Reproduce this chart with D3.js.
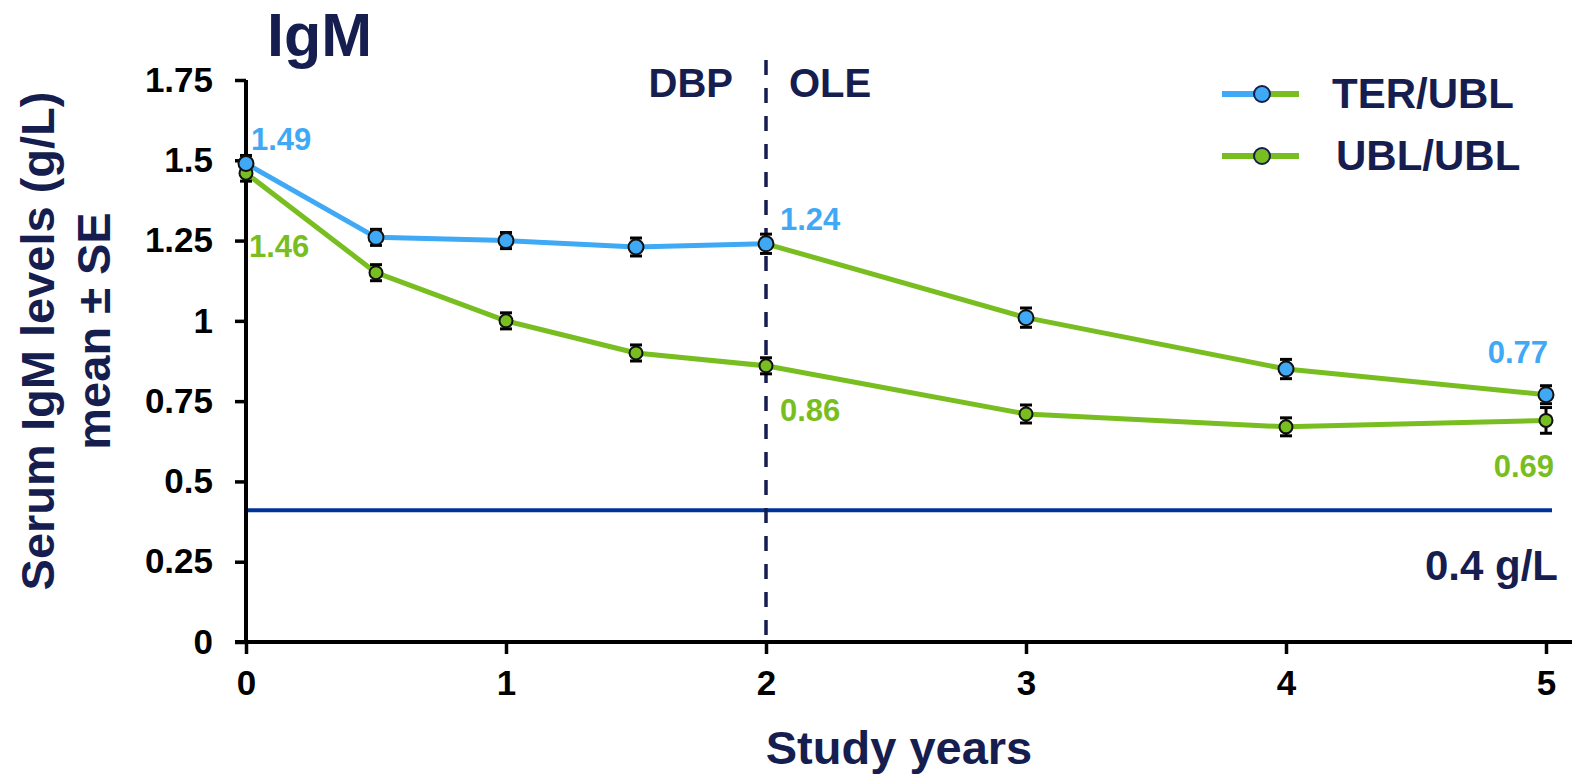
<!DOCTYPE html>
<html><head><meta charset="utf-8">
<script src="https://cdn.jsdelivr.net/npm/d3@7"></script>
<style>
html,body{margin:0;padding:0;background:#fff;}
svg text{font-family:"Liberation Sans",Arial,sans-serif;font-weight:bold;}
</style></head>
<body><svg id="c" width="1591" height="777"></svg>
<script>
const years = [0, 0.5, 1, 1.5, 2, 3, 4, 5];
const terValues = [1.49, 1.26, 1.25, 1.23, 1.24, 1.01, 0.85, 0.77];
const terSE     = [0.025, 0.025, 0.025, 0.028, 0.03, 0.03, 0.03, 0.028];
const ublValues = [1.46, 1.15, 1.00, 0.90, 0.86, 0.71, 0.67, 0.69];
const ublSE     = [0.025, 0.025, 0.025, 0.025, 0.025, 0.028, 0.028, 0.04];
const xTicks = [0, 1, 2, 3, 4, 5];
const yTicks = [0, 0.25, 0.5, 0.75, 1, 1.25, 1.5, 1.75];
const yTickLabels = ["0", "0.25", "0.5", "0.75", "1", "1.25", "1.5", "1.75"];
const threshold = 0.41;
const seriesNames = ["TER/UBL", "UBL/UBL"];
const valueLabels = [
  {series: 0, i: 0, text: "1.49"}, {series: 1, i: 0, text: "1.46"},
  {series: 0, i: 4, text: "1.24"}, {series: 1, i: 4, text: "0.86"},
  {series: 0, i: 7, text: "0.77"}, {series: 1, i: 7, text: "0.69"}
];

const BLUE = "#3fa9f5", GREEN = "#78be20", NAVY = "#161d4f", THR = "#003399";
const svg = d3.select("#c");
const x = d3.scaleLinear().domain([0, 5]).range([246, 1546]);
const y = d3.scaleLinear().domain([0, 1.75]).range([642, 80]);

// title
svg.append("text").attr("x", 267).attr("y", 56).attr("font-size", 61).attr("fill", NAVY).text("IgM");

// threshold line
svg.append("line").attr("x1", x(0)).attr("x2", 1552).attr("y1", y(threshold)).attr("y2", y(threshold))
  .attr("stroke", THR).attr("stroke-width", 4);
svg.append("text").attr("x", 1558).attr("y", 580).attr("text-anchor", "end")
  .attr("font-size", 42).attr("fill", NAVY).text("0.4 g/L");

// dashed vertical line
svg.append("line").attr("x1", x(2)).attr("x2", x(2)).attr("y1", 60).attr("y2", y(0) - 4)
  .attr("stroke", NAVY).attr("stroke-width", 3.5).attr("stroke-dasharray", "15,13");
svg.append("text").attr("x", 733).attr("y", 97).attr("text-anchor", "end").attr("font-size", 40).attr("fill", NAVY).text("DBP");
svg.append("text").attr("x", 789).attr("y", 97).attr("text-anchor", "start").attr("font-size", 40).attr("fill", NAVY).text("OLE");

// axes
const xAxis = d3.axisBottom(x).tickValues(xTicks).tickFormat(d3.format("d")).tickSizeInner(12).tickSizeOuter(0).tickPadding(16);
const gx = svg.append("g").attr("transform", `translate(0,${y(0)})`).call(xAxis);
gx.select(".domain").attr("d", `M${x(0) - 11},0H1572`).attr("stroke", "#000").attr("stroke-width", 4);
gx.selectAll(".tick line").attr("stroke", "#000").attr("stroke-width", 3.5);
gx.selectAll(".tick text").attr("font-size", 35).attr("fill", "#000").attr("font-family", "Liberation Sans, Arial, sans-serif").attr("font-weight", "bold");

const yAxis = d3.axisLeft(y).tickValues(yTicks).tickFormat((d, i) => yTickLabels[i]).tickSizeInner(11).tickSizeOuter(0).tickPadding(22);
const gy = svg.append("g").attr("transform", `translate(${x(0)},0)`).call(yAxis);
gy.select(".domain").attr("d", `M0,${y(1.75)}V${y(0)}`).attr("stroke", "#000").attr("stroke-width", 4);
gy.selectAll(".tick line").attr("stroke", "#000").attr("stroke-width", 3.5);
gy.selectAll(".tick text").attr("font-size", 35).attr("fill", "#000").attr("font-family", "Liberation Sans, Arial, sans-serif").attr("font-weight", "bold");

// axis titles
svg.append("text").attr("x", 899).attr("y", 764).attr("text-anchor", "middle").attr("font-size", 47).attr("fill", NAVY).text("Study years");
svg.append("text").attr("transform", "translate(54,341) rotate(-90)").attr("text-anchor", "middle").attr("font-size", 47).attr("fill", NAVY).text("Serum IgM levels (g/L)");
svg.append("text").attr("transform", "translate(110,331) rotate(-90)").attr("text-anchor", "middle").attr("font-size", 47).attr("fill", NAVY).text("mean ± SE");

const ter = years.map((t, i) => ({t, v: terValues[i], se: terSE[i]}));
const ubl = years.map((t, i) => ({t, v: ublValues[i], se: ublSE[i]}));
const line = d3.line().x(d => x(d.t)).y(d => y(d.v));

svg.append("path").attr("d", line(ubl)).attr("fill", "none").attr("stroke", GREEN).attr("stroke-width", 5).attr("stroke-linejoin", "round");
svg.append("path").attr("d", line(ter.slice(4))).attr("fill", "none").attr("stroke", GREEN).attr("stroke-width", 5).attr("stroke-linejoin", "round");
svg.append("path").attr("d", line(ter.slice(0, 5))).attr("fill", "none").attr("stroke", BLUE).attr("stroke-width", 5).attr("stroke-linejoin", "round");

function errorBars(data) {
  const g = svg.append("g").attr("stroke", "#000").attr("stroke-width", 3);
  data.forEach(d => {
    const cx = x(d.t), y1 = y(d.v + d.se), y2 = y(d.v - d.se);
    g.append("line").attr("x1", cx).attr("x2", cx).attr("y1", y1).attr("y2", y2);
    g.append("line").attr("x1", cx - 6).attr("x2", cx + 6).attr("y1", y1).attr("y2", y1);
    g.append("line").attr("x1", cx - 6).attr("x2", cx + 6).attr("y1", y2).attr("y2", y2);
  });
}
errorBars(ubl); errorBars(ter);

svg.append("g").selectAll("circle").data(ubl).join("circle")
  .attr("cx", d => x(d.t)).attr("cy", d => y(d.v)).attr("r", 6.5)
  .attr("fill", GREEN).attr("stroke", "#111").attr("stroke-width", 2);
svg.append("g").selectAll("circle").data(ter).join("circle")
  .attr("cx", d => x(d.t)).attr("cy", d => y(d.v)).attr("r", 7.5)
  .attr("fill", BLUE).attr("stroke", "#111").attr("stroke-width", 2);

// value labels
const labelPos = {
  "1.49": {dx: 5, dy: -13, anchor: "start"},
  "1.46": {dx: 3, dy: 84, anchor: "start"},
  "1.24": {dx: 14, dy: -14, anchor: "start"},
  "0.86": {dx: 14, dy: 55, anchor: "start"},
  "0.77": {dx: 2, dy: -32, anchor: "end"},
  "0.69": {dx: 8, dy: 57, anchor: "end"}
};
valueLabels.forEach(l => {
  const d = (l.series === 0 ? ter : ubl)[l.i];
  const p = labelPos[l.text];
  svg.append("text").attr("x", x(d.t) + p.dx).attr("y", y(d.v) + p.dy)
    .attr("text-anchor", p.anchor).attr("font-size", 31)
    .attr("fill", l.series === 0 ? BLUE : GREEN).text(l.text);
});

// legend
const legY = [94, 156];
seriesNames.forEach((name, i) => {
  const g = svg.append("g");
  g.append("line").attr("x1", 1222).attr("x2", 1262).attr("y1", legY[i]).attr("y2", legY[i])
    .attr("stroke", i === 0 ? BLUE : GREEN).attr("stroke-width", 6);
  g.append("line").attr("x1", 1262).attr("x2", 1299).attr("y1", legY[i]).attr("y2", legY[i])
    .attr("stroke", GREEN).attr("stroke-width", 6);
  g.append("circle").attr("cx", 1262).attr("cy", legY[i]).attr("r", 8)
    .attr("fill", i === 0 ? BLUE : GREEN).attr("stroke", NAVY).attr("stroke-width", 2);
  g.append("text").attr("x", i === 0 ? 1332 : 1336).attr("y", legY[i] + 14)
    .attr("font-size", 42).attr("fill", NAVY).text(name);
});
</script></body></html>
